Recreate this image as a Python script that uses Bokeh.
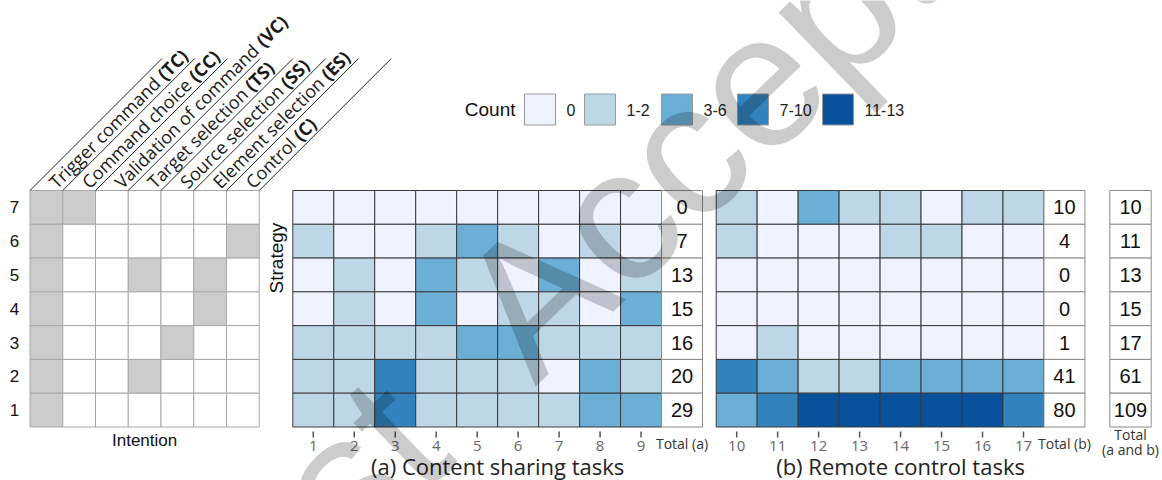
import math
from bokeh.plotting import figure
from bokeh.models import Range1d
from bokeh.core.properties import value
from bokeh.embed import file_html
from bokeh.resources import INLINE

# ---------------- data ----------------
strategies = [7, 6, 5, 4, 3, 2, 1]          # rows, top to bottom
intention_codes = ["TC", "CC", "VC", "TS", "SS", "ES", "C"]
intention_names = ["Trigger command", "Command choice", "Validation of command",
                   "Target selection", "Source selection", "Element selection", "Control"]
intentions_s7 = ["TC", "CC"]
intentions_s6 = ["TC", "C"]
intentions_s5 = ["TC", "TS", "ES"]
intentions_s4 = ["TC", "ES"]
intentions_s3 = ["TC", "SS"]
intentions_s2 = ["TC", "TS"]
intentions_s1 = ["TC"]

count_bins = ["0", "1-2", "3-6", "7-10", "11-13"]
bin_colors = ["#eff3ff", "#bdd7e7", "#6baed6", "#3182bd", "#08519c"]

tasks_a = [1, 2, 3, 4, 5, 6, 7, 8, 9]
tasks_b = [10, 11, 12, 13, 14, 15, 16, 17]

# count bin index per cell (0:"0", 1:"1-2", 2:"3-6", 3:"7-10", 4:"11-13"), rows = strategies 7..1
bins_a_s7 = [0, 0, 0, 0, 0, 0, 0, 0, 0]
bins_a_s6 = [1, 0, 0, 1, 2, 1, 0, 1, 0]
bins_a_s5 = [0, 1, 0, 2, 1, 0, 2, 0, 1]
bins_a_s4 = [0, 1, 0, 2, 0, 1, 1, 0, 2]
bins_a_s3 = [1, 1, 1, 1, 2, 2, 1, 1, 1]
bins_a_s2 = [1, 1, 3, 1, 1, 1, 0, 2, 1]
bins_a_s1 = [1, 1, 3, 1, 1, 1, 1, 2, 2]

bins_b_s7 = [1, 0, 2, 1, 1, 0, 1, 1]
bins_b_s6 = [1, 0, 0, 0, 1, 1, 0, 0]
bins_b_s5 = [0, 0, 0, 0, 0, 0, 0, 0]
bins_b_s4 = [0, 0, 0, 0, 0, 0, 0, 0]
bins_b_s3 = [0, 1, 0, 0, 0, 0, 0, 0]
bins_b_s2 = [3, 2, 1, 1, 2, 2, 2, 2]
bins_b_s1 = [2, 3, 4, 4, 4, 4, 4, 3]

total_a = [0, 7, 13, 15, 16, 20, 29]
total_b = [10, 4, 0, 0, 1, 41, 80]
total_ab = [10, 11, 13, 15, 17, 61, 109]

watermark = "Just Accepted"

# ---------------- layout (page pixel geometry) ----------------
W, H = 1162, 480
def Y(py):
    return H - py

TOP = 190.0
RH = (426.5 - 190.0) / 7
XL, CWL = 29.5, 32.75            # intention matrix
XA, CW = 292.3, 40.97            # content sharing heatmap
XB = 715.7                       # remote control heatmap
XT, CWT = 1109.3, 41.4           # overall totals

SANS = value("Liberation Sans")
OPEN = value("Open Sans")

p = figure(width=W, height=H, x_range=Range1d(0, W), y_range=Range1d(0, H),
           output_backend="svg", toolbar_location=None, min_border=0)
p.axis.visible = False
p.grid.visible = False
p.outline_line_color = None
p.background_fill_color = "white"

rows_intent = [intentions_s7, intentions_s6, intentions_s5, intentions_s4,
               intentions_s3, intentions_s2, intentions_s1]
rows_a = [bins_a_s7, bins_a_s6, bins_a_s5, bins_a_s4, bins_a_s3, bins_a_s2, bins_a_s1]
rows_b = [bins_b_s7, bins_b_s6, bins_b_s5, bins_b_s4, bins_b_s3, bins_b_s2, bins_b_s1]

def row_y(r):
    return Y(TOP + (r + 0.5) * RH)

# ---- intention matrix ----
ix, iy, icol = [], [], []
for r, used in enumerate(rows_intent):
    for c, code in enumerate(intention_codes):
        ix.append(XL + (c + 0.5) * CWL)
        iy.append(row_y(r))
        icol.append("#cccccc" if code in used else "white")
p.rect(x=ix, y=iy, width=CWL, height=RH, fill_color=icol, line_color="#a8a8a8", line_width=1)

# row labels
p.text(x=[14] * 7, y=[row_y(r) for r in range(7)], text=[str(s) for s in strategies],
       text_font=SANS, text_font_size="17px", text_align="center", text_baseline="middle",
       text_color="#111111")
p.text(x=[XL + 3.5 * CWL], y=[Y(440)], text=["Intention"], text_font=SANS, text_font_size="17px",
       text_align="center", text_baseline="middle", text_color="#111111")

# header diagonal lines + labels
OS_W = {' ': 532, '(': 563, ')': 563, 'a': 1139, 'b': 1255, 'c': 975, 'd': 1255, 'e': 1149,
        'f': 705, 'g': 1122, 'h': 1257, 'i': 518, 'l': 518, 'm': 1905, 'n': 1257, 'o': 1237,
        'r': 836, 's': 977, 't': 723, 'u': 1257, 'C': 1300, 'E': 1139, 'S': 1094, 'T': 1110,
        'V': 1245}
def os_width(s, size):
    return sum(OS_W.get(ch, 1100) for ch in s) / 2048.0 * size

HDR_SIZE = 18
HDR_LEN = 132
lx0, ly0, lx1, ly1 = [], [], [], []
for c in range(len(intention_codes) + 1):
    xs = XL + c * CWL
    lx0.append(xs); ly0.append(Y(TOP))
    lx1.append(xs + HDR_LEN); ly1.append(Y(TOP - HDR_LEN))
p.segment(x0=lx0, y0=ly0, x1=lx1, y1=ly1, line_color="#222222", line_width=1)

k = math.sqrt(0.5)
for c, (name, code) in enumerate(zip(intention_names, intention_codes)):
    cx = XL + (c + 0.5) * CWL
    d0 = 8.0
    reg = name + " "
    d1 = d0 + os_width(reg, HDR_SIZE)
    p.text(x=[cx + d0 * k], y=[Y(TOP) + d0 * k], text=[reg], angle=math.pi / 4,
           text_font=OPEN, text_font_size=f"{HDR_SIZE}px", text_align="left",
           text_baseline="middle", text_color="#1a1a1a")
    p.text(x=[cx + d1 * k], y=[Y(TOP) + d1 * k], text=[f"({code})"], angle=math.pi / 4,
           text_font=OPEN, text_font_size=f"{HDR_SIZE}px", text_font_style="bold",
           text_align="left", text_baseline="middle", text_color="#1a1a1a")

# ---- heatmaps ----
def heatmap(x0, tasks, rows):
    xs, ys, cols = [], [], []
    for r, row in enumerate(rows):
        for c, b in enumerate(row):
            xs.append(x0 + (c + 0.5) * CW)
            ys.append(row_y(r))
            cols.append(bin_colors[b])
    p.rect(x=xs, y=ys, width=CW, height=RH, fill_color=cols, line_color="#3a3a3a", line_width=1)
    tx = [x0 + (c + 0.5) * CW for c in range(len(tasks))]
    p.segment(x0=tx, y0=[Y(431)] * len(tx), x1=tx, y1=[Y(437)] * len(tx),
              line_color="#555555", line_width=1.5)
    p.text(x=tx, y=[Y(445)] * len(tx), text=[str(t) for t in tasks], text_font=OPEN,
           text_font_size="15px", text_align="center", text_baseline="middle", text_color="#666666")

def totals(xc, w, vals):
    p.rect(x=[xc] * 7, y=[row_y(r) for r in range(7)], width=w, height=RH,
           fill_color="white", line_color="#8a8a8a", line_width=1)
    p.text(x=[xc] * 7, y=[row_y(r) for r in range(7)], text=[str(v) for v in vals],
           text_font=SANS, text_font_size="20px", text_align="center", text_baseline="middle",
           text_color="#111111")

heatmap(XA, tasks_a, rows_a)
heatmap(XB, tasks_b, rows_b)
xa_tot = XA + (len(tasks_a) + 0.5) * CW
xb_tot = XB + (len(tasks_b) + 0.5) * CW
xt_tot = XT + CWT / 2
totals(xa_tot, CW, total_a)
totals(xb_tot, CW, total_b)
totals(xt_tot, CWT, total_ab)

p.text(x=[xa_tot, xb_tot], y=[Y(443)] * 2, text=["Total (a)", "Total (b)"], text_font=OPEN,
       text_font_size="14px", text_align="center", text_baseline="middle", text_color="#333333")
p.text(x=[xt_tot, xt_tot], y=[Y(434), Y(449)], text=["Total", "(a and b)"], text_font=OPEN,
       text_font_size="14px", text_align="center", text_baseline="middle", text_color="#333333")

p.text(x=[XA + 5 * CW, XB + 4.5 * CW], y=[Y(465)] * 2,
       text=["(a) Content sharing tasks", "(b) Remote control tasks"],
       text_font=OPEN, text_font_size="22px", text_align="center", text_baseline="middle",
       text_color="#222222")

p.text(x=[276], y=[Y(TOP + 2 * RH)], text=["Strategy"], angle=math.pi / 2, text_font=SANS,
       text_font_size="19px", text_align="center", text_baseline="middle", text_color="#111111")

# ---- legend ----
LEG_X = [524, 584, 661, 737, 822]
LEG_Y = 109
BOX = 31
p.rect(x=[x + BOX / 2 for x in LEG_X], y=[Y(LEG_Y)] * 5, width=BOX, height=BOX,
       fill_color=bin_colors, line_color="#9a9a9a", line_width=1)
p.text(x=[x + BOX + 11 for x in LEG_X], y=[Y(LEG_Y)] * 5, text=count_bins, text_font=SANS,
       text_font_size="16px", text_align="left", text_baseline="middle", text_color="#222222")
p.text(x=[515], y=[Y(LEG_Y)], text=["Count"], text_font=SANS, text_font_size="19px",
       text_align="right", text_baseline="middle", text_color="#111111")

# ---- watermark (two words along one rotated baseline) ----
WM_ANGLE = math.radians(44)
WM_SIZE = 190
WM_FOOT = (489, 339)       # baseline start of the second word (page px)
WM_GAP = 106               # distance back along the baseline to the end of the first word
ca, sa = math.cos(WM_ANGLE), math.sin(WM_ANGLE)
w1, w2 = watermark.split(" ")
p.text(x=[WM_FOOT[0]], y=[Y(WM_FOOT[1])], text=[w2], angle=WM_ANGLE, text_font=SANS,
       text_font_size=f"{WM_SIZE}px", text_align="left", text_baseline="alphabetic",
       text_color="black", text_alpha=0.2)
p.text(x=[WM_FOOT[0] - WM_GAP * ca], y=[Y(WM_FOOT[1]) - WM_GAP * sa], text=[w1], angle=WM_ANGLE,
       text_font=SANS, text_font_size=f"{WM_SIZE}px", text_align="right",
       text_baseline="alphabetic", text_color="black", text_alpha=0.2)

open("out.html", "w").write(file_html(p, INLINE))
